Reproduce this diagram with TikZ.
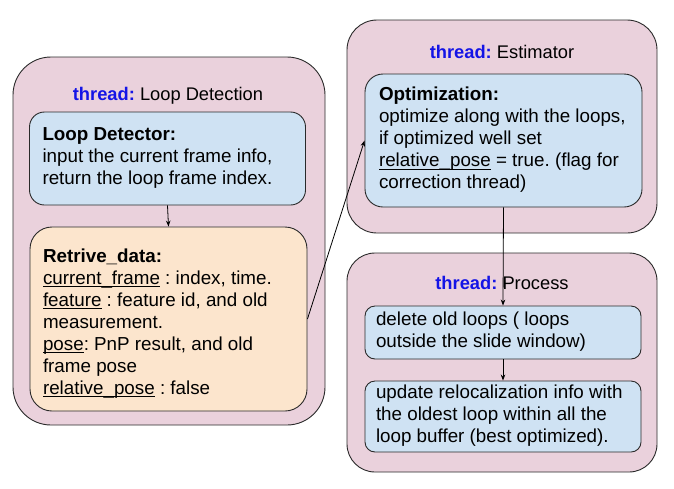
\documentclass[tikz,border=0pt]{standalone}
\usepackage{fontspec}
\setmainfont{Liberation Sans}
\usetikzlibrary{arrows.meta}
\definecolor{outerpink}{HTML}{EAD1DC}
\definecolor{boxblue}{HTML}{CFE2F3}
\definecolor{boxorange}{HTML}{FCE5CD}
\definecolor{threadblue}{HTML}{1414E6}
\definecolor{edgegray}{HTML}{2A2A2A}
\frenchspacing
\newlength\ulw
\newcommand\myul[1]{\leavevmode\settowidth\ulw{#1}\rlap{\rule[-2.6pt]{\ulw}{0.9pt}}#1}
\newcommand\thr{\textcolor{threadblue}{\textbf{thread:}}}
\newcommand\lines[2]{\makebox[#1][l]{\begin{tabular}{@{}l@{}}#2\end{tabular}}}
\tikzset{
  txt/.style={font=\fontsize{18.8}{22}\selectfont},
  outerbox/.style={draw=edgegray, line width=0.9pt, fill=outerpink, rectangle, inner sep=0pt},
  bluebox/.style={draw=edgegray, line width=0.9pt, fill=boxblue, rectangle, txt, inner sep=0pt},
  orangebox/.style={draw=edgegray, line width=0.9pt, fill=boxorange, rectangle, txt, inner sep=0pt},
  title/.style={font=\fontsize{18.3}{21.5}\selectfont, inner sep=0pt},
  conn/.style={draw=black, line width=0.8pt, -{Stealth[length=6pt,width=4.5pt]}}
}
\begin{document}
\begin{tikzpicture}[x=1pt,y=-1pt]
\useasboundingbox (0,0) rectangle (674,488);
% outer thread boxes
\node[outerbox, rounded corners=38pt, minimum width=312pt, minimum height=368pt] (tl) at (169,241) {};
\node[outerbox, rounded corners=30pt, minimum width=310pt, minimum height=213pt] (te) at (502,126.5) {};
\node[outerbox, rounded corners=28pt, minimum width=310pt, minimum height=219pt] (tp) at (502,362.5) {};
% titles
\node[title] (ttl) at (168,96) {\thr{} Loop Detection};
\node[title] (tte) at (502,52) {\thr{} Estimator};
\node[title] (ttp) at (502,283) {\thr{} Process};
% inner boxes
\node[bluebox, rounded corners=15pt, minimum width=276pt, minimum height=93pt] (ld) at (167.5,158.5)
  {\lines{250pt}{\textbf{Loop Detector:}\\input the current frame info,\\return the loop frame index.}};
\node[orangebox, rounded corners=22pt, minimum width=277pt, minimum height=184pt] (rd) at (168.5,319)
  {\lines{251pt}{\rule{0pt}{25pt}\textbf{Retrive\_data:}\\\myul{current\_frame} : index, time.\\\myul{feature} : feature id, and old\\measurement.\\\myul{pose}: PnP result, and old\\frame pose\\\myul{relative\_pose} : false}};
\node[bluebox, rounded corners=18pt, minimum width=277pt, minimum height=133pt] (opt) at (503.5,140.5)
  {\lines{249pt}{\textbf{Optimization:}\\optimize along with the loops,\\if optimized well set\\\myul{relative\_pose} = true. (flag for\\correction thread)}};
\node[bluebox, rounded corners=10pt, minimum width=276pt, minimum height=53pt] (del) at (503,332.5)
  {\lines{254pt}{delete old loops ( loops\\outside the slide window)}};
\node[bluebox, rounded corners=10pt, minimum width=276pt, minimum height=71pt] (upd) at (503,416.5)
  {\lines{254pt}{update relocalization info with\\the oldest loop within all the\\loop buffer (best optimized).}};
% connectors
\draw[conn] (ld.south) -- (rd.north);
\draw[conn] (rd.east) -- (opt.west);
\draw[conn] (opt.south) -- (del.north);
\draw[conn] (del.south) -- (upd.north);
\end{tikzpicture}
\end{document}
